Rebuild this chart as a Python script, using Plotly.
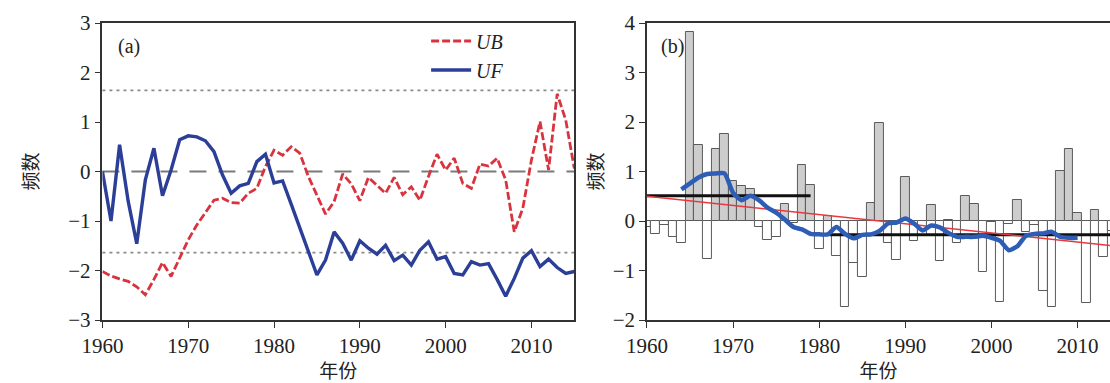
import plotly.graph_objects as go

# ---------------- data: panel (a) Mann-Kendall statistics ----------------
years_a = list(range(1960, 2016))
uf = [0.00, -1.00, 0.54, -0.60, -1.46, -0.17, 0.47, -0.49, 0.03, 0.64,
      0.72, 0.70, 0.62, 0.40, -0.07, -0.44, -0.29, -0.24, 0.20, 0.35,
      -0.23, -0.19, -0.66, -1.14, -1.62, -2.09, -1.79, -1.22, -1.45, -1.79,
      -1.40, -1.55, -1.67, -1.49, -1.80, -1.69, -1.89, -1.59, -1.42, -1.77,
      -1.72, -2.06, -2.09, -1.82, -1.89, -1.86, -2.18, -2.52, -2.16, -1.75,
      -1.60, -1.92, -1.77, -1.94, -2.06, -2.02]
ub = [-2.02, -2.11, -2.17, -2.22, -2.33, -2.49, -2.18, -1.84, -2.12, -1.75,
      -1.38, -1.08, -0.83, -0.58, -0.54, -0.63, -0.64, -0.44, -0.34, 0.10,
      0.43, 0.33, 0.50, 0.37, -0.10, -0.47, -0.86, -0.61, -0.05, -0.25,
      -0.59, -0.12, -0.27, -0.44, -0.12, -0.47, -0.31, -0.58, -0.10, 0.35,
      0.03, 0.27, -0.24, -0.34, 0.15, 0.11, 0.27, -0.17, -1.22, -0.74,
      0.23, 1.01, 0.03, 1.57, 1.04, 0.06]
crit = 1.64

# ---------------- data: panel (b) anomalies ----------------
years_b = list(range(1960, 2015))
freq = [-0.13, -0.27, -0.08, -0.32, -0.44, 3.81, 1.53, -0.76, 1.46, 1.75,
        0.81, 0.71, 0.64, -0.12, -0.38, -0.32, 0.35, -0.04, 1.13, 0.73,
        -0.57, 0.10, -0.70, -1.73, -0.84, -1.13, 0.37, 1.97, -0.45, -0.78,
        0.89, -0.40, -0.30, 0.32, -0.81, 0.02, -0.45, 0.51, 0.35, -1.04,
        -0.03, -1.64, -0.06, 0.42, -0.22, -0.08, -1.42, -1.74, 1.02, 1.45,
        0.17, -1.65, 0.22, -0.73, -0.20]
smooth_years = list(range(1964, 2011))
smooth = [0.64, 0.76, 0.88, 0.95, 0.96, 0.96, 0.57, 0.42, 0.51, 0.42,
          0.27, 0.17, 0.03, -0.12, -0.17, -0.26, -0.27, -0.27, -0.12, -0.26,
          -0.35, -0.28, -0.27, -0.20, -0.05, -0.03, 0.05, -0.05, -0.19, -0.09,
          -0.13, -0.24, -0.32, -0.32, -0.32, -0.30, -0.34, -0.40, -0.59, -0.51,
          -0.30, -0.26, -0.25, -0.22, -0.32, -0.34, -0.34]
mean1_years = [1960, 1979]
mean1 = [0.51, 0.51]
mean2_years = [1981.2, 2015]
mean2 = [-0.28, -0.28]
trend_years = [1960, 2014]
trend = [0.50, -0.50]

xticks = [1960, 1970, 1980, 1990, 2000, 2010]

SERIF = "Liberation Serif"
CJK = "Noto Sans CJK SC"
RED = "#d8343f"
NAVY = "#2c3f98"
BLUE = "#2d5db5"

fig = go.Figure()

# panel (a)
fig.add_trace(go.Scatter(x=years_a, y=ub, mode="lines", name="<i>UB</i>",
                         line=dict(color=RED, width=2.8, dash="8px,3px"),
                         xaxis="x", yaxis="y"))
fig.add_trace(go.Scatter(x=years_a, y=uf, mode="lines", name="<i>UF</i>",
                         line=dict(color=NAVY, width=3.4),
                         xaxis="x", yaxis="y"))

# panel (b)
bar_fill = ["#cdcdcd" if v > 0 else "#ffffff" for v in freq]
fig.add_trace(go.Bar(x=years_b, y=freq, width=1.0, showlegend=False,
                     marker=dict(color=bar_fill, line=dict(color="#5a5a5a", width=1)),
                     xaxis="x2", yaxis="y2"))
fig.add_trace(go.Scatter(x=mean1_years, y=mean1, mode="lines", showlegend=False,
                         line=dict(color="#111111", width=3), xaxis="x2", yaxis="y2"))
fig.add_trace(go.Scatter(x=mean2_years, y=mean2, mode="lines", showlegend=False,
                         line=dict(color="#111111", width=3), xaxis="x2", yaxis="y2"))
fig.add_trace(go.Scatter(x=trend_years, y=trend, mode="lines", showlegend=False,
                         line=dict(color="#e8383f", width=1.6), xaxis="x2", yaxis="y2"))
fig.add_trace(go.Scatter(x=smooth_years, y=smooth, mode="lines", showlegend=False,
                         line=dict(color=BLUE, width=4.5, shape="spline", smoothing=0.6),
                         xaxis="x2", yaxis="y2"))

# reference lines in panel (a)
for yv, dash, col in [(crit, "3px,4px", "#8a8a8a"), (-crit, "3px,4px", "#8a8a8a"),
                      (0, "17px,12px", "#7a7a7a")]:
    fig.add_shape(type="line", xref="x domain", yref="y", x0=0, x1=1, y0=yv, y1=yv,
                  line=dict(color=col, width=1.8, dash=dash), layer="below")

tickfont = dict(family=SERIF, size=21, color="#222222")
axis_common = dict(showgrid=False, zeroline=False, showline=True, linecolor="#333333",
                   linewidth=1.5, ticks="outside", ticklen=6, tickwidth=1.2,
                   tickcolor="#333333", tickfont=tickfont)

fig.update_layout(
    width=1110, height=383,
    margin=dict(l=0, r=0, t=23, b=63),
    paper_bgcolor="white", plot_bgcolor="white",
    bargap=0,
    showlegend=True,
    legend=dict(x=0.372, y=1.005, xanchor="left", yanchor="top",
                bgcolor="rgba(0,0,0,0)", font=dict(family=SERIF, size=20, color="#222222"),
                tracegroupgap=0, itemwidth=40),
    xaxis=dict(domain=[83/1110, 564/1110], range=[1960, 2015], tickvals=xticks,
               mirror=True, anchor="y",
               title=dict(text="年份", font=dict(family=CJK, size=19, color="#222222"), standoff=6),
               **axis_common),
    yaxis=dict(domain=[0, 1], range=[-3, 3], tickvals=[-3, -2, -1, 0, 1, 2, 3],
               mirror=True, anchor="x",
               title=dict(text="频数", font=dict(family=CJK, size=19, color="#222222"), standoff=24),
               **axis_common),
    xaxis2=dict(domain=[638/1110, 1.0], range=[1960, 2013.76], tickvals=xticks,
                mirror=True, anchor="y2",
                title=dict(text="年份", font=dict(family=CJK, size=19, color="#222222"), standoff=6),
                **axis_common),
    yaxis2=dict(domain=[0, 1], range=[-2, 4], tickvals=[-2, -1, 0, 1, 2, 3, 4],
                mirror=False, anchor="x2",
                title=dict(text="频数", font=dict(family=CJK, size=19, color="#222222"), standoff=4),
                **axis_common),
    annotations=[
        dict(text="(a)", xref="x domain", yref="y domain", x=0.028, y=0.92,
             xanchor="left", yanchor="middle", showarrow=False,
             font=dict(family=SERIF, size=20, color="#222222")),
        dict(text="(b)", xref="x2 domain", yref="y2 domain", x=0.025, y=0.92,
             xanchor="left", yanchor="middle", showarrow=False,
             font=dict(family=SERIF, size=20, color="#222222")),
    ],
)

fig.write_html("out.html")
